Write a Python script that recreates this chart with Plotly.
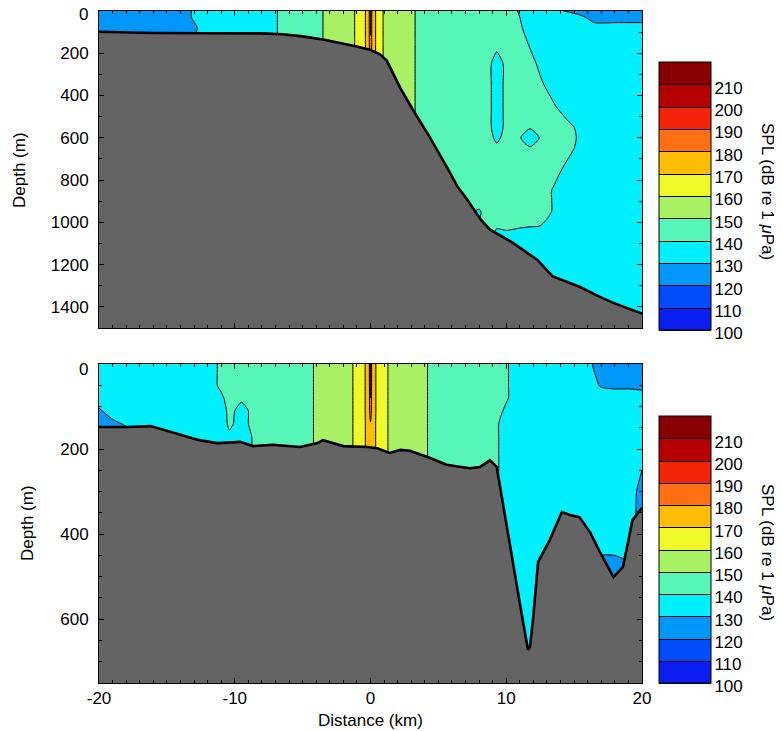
import plotly.graph_objects as go

# --- escala SPL (dB re 1 uPa) ---
SPL_LEVELS = [100, 110, 120, 130, 140, 150, 160, 170, 180, 190, 200, 210]
# fondo (<100) y bandas 100-110 ... 210-220
BAND_COLORS = ["#0a1ef0", "#0a1ef0", "#0064ff", "#00acf5", "#00ffff", "#5ef5b0",
               "#a8f064", "#ecff2c", "#ffc800", "#ff8414", "#ff3a12", "#dc0000", "#880000"]

X_RANGE = [-20, 20]
X_TICKS = [-20, -10, 0, 10, 20]
X_TICKTEXT = ["-20", "-10", "0", "10", "20"]

# --- panel superior: talud ---
TOP_DEPTH_MAX = 1500
TOP_TICKS = [0, 200, 400, 600, 800, 1000, 1200, 1400]
X_TOP = [-20, -16, -14, -12, -10, -8, -6, -4, -3, -2, -1, -0.5, -0.1, 0, 0.1, 0.5, 1, 2, 3,
         4, 5, 6, 7, 8, 8.7, 9.3, 10, 11, 11.75, 12.5, 13.5, 14.5, 15.5, 16.5, 18, 20]
Z_TOP = [0, 30, 80, 150, 250, 350, 450, 550, 600, 650, 750, 850, 950, 1050, 1150, 1300, 1500]
SPL_TOP = [
    [124, 126, 129, 131.5, 134, 138, 141.5, 148.5, 151.5, 155, 161, 166, 179, 197, 179, 166, 159, 154, 151,
     147.5, 146, 145, 144, 143, 142, 141.5, 141, 139.8, 134, 131.5, 130.5, 129.8, 129, 128.8, 128.5, 128],
    [124, 126, 129, 131.5, 134, 138, 141.5, 148.5, 151.5, 155, 161, 166, 179, 195, 179, 166, 159, 154, 151,
     147.5, 146, 145, 144, 143, 142.5, 142, 141.5, 140, 137, 135, 132.5, 131.5, 130.5, 129, 129, 129],
    [124, 126, 129, 130.6, 134, 138, 141.5, 148.5, 151.5, 155, 161, 166, 179, 192, 179, 166, 159, 154, 151,
     147.5, 146, 145, 144, 143, 142.5, 142, 142, 140.5, 138.5, 137, 135, 134, 132.5, 131, 131, 131],
    [124, 126, 129, 131.5, 134, 138, 141.5, 148.5, 151.5, 155, 161, 166, 179, 188, 179, 166, 159, 154, 151,
     147.5, 146, 145, 144, 143.5, 142.5, 141.5, 142, 141, 139.7, 138.5, 137, 136.5, 136, 135.5, 135.5, 135.5],
    [124, 126, 129, 131.5, 134, 138, 141.5, 148.5, 151.5, 155, 161, 166, 178, 183, 178, 166, 159, 154, 151,
     147.5, 146, 145, 144, 143.5, 141, 138, 141, 141.5, 140.8, 139.5, 138, 137.5, 137, 137, 137, 137],
    [124, 126, 129, 131.5, 134, 138, 141.5, 148.5, 151.5, 155, 161, 166, 178, 183, 178, 166, 159, 154, 151,
     147.5, 146, 145, 144, 143.5, 141, 138, 141, 142, 141.5, 140.4, 139, 138, 137.5, 137, 137, 137],
    [124, 126, 129, 131.5, 134, 138, 141.5, 148.5, 151.5, 155, 161, 166, 178, 183, 178, 166, 159, 154, 151,
     147.5, 146, 145, 144, 143.5, 141, 138, 141, 142, 141.5, 141, 140.2, 138.8, 138, 137.5, 137, 137],
    [124, 126, 129, 131.5, 134, 138, 141.5, 148.5, 151.5, 155, 161, 166, 178, 183, 178, 166, 159, 154, 151,
     147.5, 146, 145, 144, 143.5, 141, 138, 141, 141.8, 140.5, 141.5, 141.2, 140.6, 139.4, 138.5, 137.5, 137],
    [124, 126, 129, 131.5, 134, 138, 141.5, 148.5, 151.5, 155, 161, 166, 178, 183, 178, 166, 159, 154, 151,
     147.5, 146, 145, 144, 143.5, 141.5, 139, 141.5, 140.3, 137, 140.3, 141.2, 140.8, 139.6, 138.5, 137.5, 137],
    [124, 126, 129, 131.5, 134, 138, 141.5, 148.5, 151.5, 155, 161, 166, 178, 183, 178, 166, 159, 154, 151,
     147.5, 146, 145, 144, 143.5, 142, 141, 142, 141.5, 140.5, 141.5, 141.3, 140.6, 139.4, 138.5, 137.5, 137],
    [124, 126, 129, 131.5, 134, 138, 141.5, 148.5, 151.5, 155, 161, 166, 178, 183, 178, 166, 159, 154, 151,
     147.5, 146, 145, 144, 143.5, 143, 142.5, 142, 142, 141.8, 141.5, 140.7, 139.5, 138.5, 138, 137.5, 137],
    [124, 126, 129, 131.5, 134, 138, 141.5, 148.5, 151.5, 155, 161, 166, 178, 183, 178, 166, 159, 154, 151,
     147.5, 146, 145, 144, 143.5, 143, 142.5, 142, 141.5, 141.2, 141, 139.8, 138.8, 138, 137.5, 137, 137],
    [124, 126, 129, 131.5, 134, 138, 141.5, 148.5, 151.5, 155, 161, 166, 178, 183, 178, 166, 159, 154, 151,
     147.5, 146, 145, 141, 139.5, 142, 142, 141.5, 141, 141, 141, 139.8, 138.8, 138, 137.5, 137, 137],
    [124, 126, 129, 131.5, 134, 138, 141.5, 148.5, 151.5, 155, 161, 166, 178, 183, 178, 166, 159, 154, 151,
     147.5, 146, 145, 141, 140.5, 141, 139.5, 139.8, 139.7, 139.6, 139.5, 139, 138.5, 138, 137.5, 137, 137],
    [124, 126, 129, 131.5, 134, 138, 141.5, 148.5, 151.5, 155, 161, 166, 178, 183, 178, 166, 159, 154, 151,
     147.5, 146, 145, 141, 140, 139.5, 139, 139, 139, 138.5, 138.5, 138, 138, 137.5, 137.5, 137, 137],
    [124, 126, 129, 131.5, 134, 138, 141.5, 148.5, 151.5, 155, 161, 166, 178, 183, 178, 166, 159, 154, 151,
     147.5, 146, 145, 141, 140, 139, 138.5, 138.5, 138.5, 138.5, 138, 138, 138, 137.5, 137.5, 137, 137],
    [124, 126, 129, 131.5, 134, 138, 141.5, 148.5, 151.5, 155, 161, 166, 178, 183, 178, 166, 159, 154, 151,
     147.5, 146, 145, 141, 140, 139, 138.5, 138.5, 138.5, 138.5, 138, 138, 138, 137.5, 137.5, 137, 137],
]
BATHY_TOP_X = [-20, -16, -12, -8, -6.5, -5, -3.5, -2, -1, 0, 0.7, 1.2, 1.7, 2.2, 3.1, 4.3, 5.6, 6.4,
               7.1, 8.1, 8.8, 10.5, 12.3, 13.4, 15.4, 16.9, 17.9, 20]
BATHY_TOP_Z = [98, 104, 105, 106, 110, 120, 135, 155, 168, 185, 205, 235, 300, 365, 465, 590, 735, 830,
               890, 985, 1035, 1097, 1178, 1255, 1305, 1353, 1381, 1432]

# --- panel inferior: plataforma y canon ---
BOT_DEPTH_MAX = 750
BOT_TICKS = [0, 200, 400, 600]
X_BOT = [-20, -19, -18, -16, -14, -12, -11, -10.4, -9.5, -8.5, -7, -5, -4, -3, -2, -1, -0.5, -0.1, 0, 0.1,
         0.5, 1, 1.5, 2, 3, 4, 5, 6, 7, 8, 9, 10, 11, 12, 13, 14, 15, 16, 17, 18, 19, 20]
Z_BOT = [0, 20, 50, 80, 110, 140, 170, 200, 250, 300, 400, 500, 600, 750]
SPL_BOT = [
    [131.5, 132, 132.5, 134, 136, 138.5, 140.6, 141.5, 142, 142.5,
     144, 148, 150.5, 153, 156, 161.7, 167.5, 177, 196, 177, 167.5, 162, 158.5, 157, 154, 150.5, 148, 146, 145, 144,
     142, 140.3, 138.5, 137, 136, 135, 132, 130.5, 129, 128.5, 128.5, 128.5],
    [131.5, 132, 132.5, 134, 136, 138.5, 140.6, 141.5, 142, 142.5,
     144, 148, 150.5, 153, 156, 161.7, 167.5, 177, 195, 177, 167.5, 162, 158.5, 157, 154, 150.5, 148, 146, 145, 144,
     142, 140.3, 138.5, 137.5, 136.5, 135.5, 133, 130.7, 129.3, 129, 129, 129],
    [131.5, 132, 132.5, 134, 136, 138.5, 140.6, 141.5, 142, 142.5,
     144, 148, 150.5, 153, 156, 161.7, 167.5, 177, 193, 177, 167.5, 162, 158.5, 157, 154, 150.5, 148, 146, 145, 144,
     142, 140.3, 138.5, 137.5, 136.5, 135.5, 133.5, 131, 129.8, 129.6, 129.6, 129.5],
    [131, 132, 132.5, 134, 136, 138.5, 139.5, 141, 140.5, 142,
     144, 148, 150.5, 153, 156, 161.7, 167.5, 177, 190, 177, 167.5, 162, 158.5, 157, 154, 150.5, 148, 146, 145, 144,
     142, 140.3, 138.5, 137.5, 136.5, 135.5, 134, 132.5, 131, 131, 131, 130.8],
    [129.7, 131, 132, 134, 136, 138, 138.5, 140.8, 139, 141,
     144, 148, 150.5, 153, 156, 161.7, 167.5, 177, 186, 177, 167.5, 162, 158.5, 157, 154, 150.5, 148, 146, 145, 144,
     141.5, 139.5, 138.5, 137.5, 136.5, 136, 135, 134, 133, 132.5, 132, 131.5],
    [128.5, 129.5, 130.3, 133.5, 135.5, 138, 138.5, 140.5, 139, 141,
     144, 148, 150.5, 153, 156, 161.7, 167.5, 176, 179, 176, 167.5, 162, 158.5, 157, 154, 150.5, 148, 146, 145, 144,
     140.8, 139, 138.5, 137.5, 137, 136.5, 135.5, 134.5, 133.5, 133, 132.5, 131.5],
    [128, 128.5, 129, 133, 135, 137.5, 138, 139.5, 138.5, 140.5,
     144, 148, 150.5, 153, 156, 161.7, 167.5, 176, 178, 176, 167.5, 162, 158.5, 157, 154, 150.5, 148, 146, 145, 144,
     140.8, 139, 138.5, 137.5, 137, 136.5, 135.5, 134.5, 133.5, 133, 132.5, 131.5],
    [128, 128.5, 129, 133, 135, 137.5, 138, 139, 138.5, 140.5,
     144, 148, 150.5, 153, 156, 161.7, 167.5, 176, 178, 176, 167.5, 162, 158.5, 157, 154, 150.5, 148, 146, 145, 144,
     140.8, 139, 138.5, 137.5, 137, 136.5, 135.5, 134.5, 133.5, 133, 132, 131],
    [128, 128.5, 129, 133, 135, 137.5, 138, 139, 138.5, 140.5,
     144, 148, 150.5, 153, 156, 161.7, 167.5, 176, 178, 176, 167.5, 162, 158.5, 157, 154, 150.5, 148, 146, 145, 144,
     140.8, 139, 138.5, 137.5, 137, 136.5, 135.5, 134.5, 133.5, 133, 131.5, 130],
    [128, 128.5, 129, 133, 135, 137.5, 138, 139, 138.5, 140.5,
     144, 148, 150.5, 153, 156, 161.7, 167.5, 176, 178, 176, 167.5, 162, 158.5, 157, 154, 150.5, 148, 146, 145, 144,
     140.8, 138.5, 138, 137, 136.5, 136, 135, 134, 133, 132.5, 131.5, 129],
    [128, 128.5, 129, 133, 135, 137.5, 138, 139, 138.5, 140.5,
     144, 148, 150.5, 153, 156, 161.7, 167.5, 176, 178, 176, 167.5, 162, 158.5, 157, 154, 150.5, 148, 146, 145, 144,
     140.8, 138, 137.5, 137, 136.5, 135.5, 134, 132.5, 131.5, 131.5, 131.5, 128.5],
    [128, 128.5, 129, 133, 135, 137.5, 138, 139, 138.5, 140.5,
     144, 148, 150.5, 153, 156, 161.7, 167.5, 176, 178, 176, 167.5, 162, 158.5, 157, 154, 150.5, 148, 146, 145, 144,
     140.8, 137.5, 137, 136.5, 136, 135, 133, 129.5, 128.5, 128.5, 129, 128.5],
    [128, 128.5, 129, 133, 135, 137.5, 138, 139, 138.5, 140.5,
     144, 148, 150.5, 153, 156, 161.7, 167.5, 176, 178, 176, 167.5, 162, 158.5, 157, 154, 150.5, 148, 146, 145, 144,
     140.8, 137, 137, 136.5, 136, 135, 132, 129, 128.5, 128.5, 128.5, 128.5],
    [128, 128.5, 129, 133, 135, 137.5, 138, 139, 138.5, 140.5,
     144, 148, 150.5, 153, 156, 161.7, 167.5, 176, 178, 176, 167.5, 162, 158.5, 157, 154, 150.5, 148, 146, 145, 144,
     140.8, 137, 137, 136.5, 136, 135, 132, 129, 128.5, 128.5, 128.5, 128.5],
]
BATHY_BOT_X = [-20, -17.9, -16.2, -14.5, -12.6, -11.3, -9.6, -8.65, -7.2, -5.2, -3.9, -3.5, -2.8, -2.0,
               -0.25, 0.5, 1.4, 2.2, 2.9, 4.4, 5.6, 7.3, 8.07, 8.8, 9.3, 9.55, 10.3, 11.0, 11.6, 11.75,
               12.0, 12.35, 13.2, 14.1, 14.7, 15.4, 16.2, 16.9, 17.9, 18.6, 19.3, 20]
BATHY_BOT_Z = [148, 148, 146, 162, 179, 186, 183, 193, 190, 195, 186, 179, 186, 193,
               195, 198, 209, 202, 204, 221, 237, 245, 242, 226, 242, 290, 430, 562, 672, 665,
               590, 465, 414, 348, 355, 360, 397, 442, 501, 477, 367, 338]

FONT = "Liberation Sans, Arial, sans-serif"
SEABED = "#646464"
CB_TITLE = "SPL (dB re 1 <i>μ</i>Pa)"
CB_LABEL_NUDGE = 4  # las etiquetas de la barra quedan algo por debajo de cada nivel

# la pagina html deja 8 px de margen en el body: se descuentan aqui
PAGE_OFFSET = 8
W, H = 782 - PAGE_OFFSET, 731 - PAGE_OFFSET
H_PLOT = 672  # alto del area de graficas en px
W_PLOT = 543


def px_x(p):
    return (p - 99) / W_PLOT


def px_y(p):
    return (683 - p) / H_PLOT


colorscale = [[k / (len(BAND_COLORS) - 1), c] for k, c in enumerate(BAND_COLORS)]

fig = go.Figure()


def add_panel(x, z, spl, bx, bz, zmax, xa, ya, cb_y, cb_len):
    fig.add_trace(go.Contour(
        x=x, y=z, z=spl, xaxis=xa, yaxis=ya,
        colorscale=colorscale, zauto=False, zmin=100, zmax=220,
        autocontour=False,
        contours=dict(start=SPL_LEVELS[0], end=SPL_LEVELS[-1], size=10,
                      coloring="fill", showlines=True),
        line=dict(color="#000000", width=1, smoothing=0.6),
        colorbar=dict(
            x=px_x(659), xanchor="left", xpad=0, ypad=0,
            y=cb_y, yanchor="middle", len=cb_len, lenmode="pixels",
            thickness=52, outlinecolor="black", outlinewidth=1,
            tickvals=[v + CB_LABEL_NUDGE for v in SPL_LEVELS], ticktext=[str(v) for v in SPL_LEVELS],
            ticks="outside", ticklen=13, tickcolor="rgba(0,0,0,0)",
            ticklabelposition="outside bottom",
            tickfont=dict(family=FONT, size=17, color="black"),
        ),
        hoverinfo="skip",
    ))
    fig.add_trace(go.Scatter(
        x=bx + [X_RANGE[1], X_RANGE[0]], y=bz + [zmax, zmax],
        xaxis=xa, yaxis=ya, mode="none", fill="toself", fillcolor=SEABED,
        hoverinfo="skip", showlegend=False,
    ))
    fig.add_trace(go.Scatter(
        x=bx, y=bz, xaxis=xa, yaxis=ya, mode="lines",
        line=dict(color="black", width=2.6), hoverinfo="skip", showlegend=False,
    ))


add_panel(X_TOP, Z_TOP, SPL_TOP, BATHY_TOP_X, BATHY_TOP_Z, TOP_DEPTH_MAX, "x", "y", px_y(196), 268)
add_panel(X_BOT, Z_BOT, SPL_BOT, BATHY_BOT_X, BATHY_BOT_Z, BOT_DEPTH_MAX, "x2", "y2", px_y(549.5), 267)

axis_common = dict(
    showline=True, linecolor="black", linewidth=1, mirror="allticks",
    ticks="inside", ticklen=5, tickcolor="black", showgrid=False, zeroline=False,
    ticklabeloverflow="allow",
    tickfont=dict(family=FONT, size=17, color="black"),
)

# el "0" de profundidad va un poco por debajo del borde: se pone aparte
top_ticktext = [""] + [str(v) for v in TOP_TICKS[1:]]
bot_ticktext = [""] + [str(v) for v in BOT_TICKS[1:]]

fig.update_layout(
    width=W, height=H,
    margin=dict(l=99 - PAGE_OFFSET, r=140, t=11 - PAGE_OFFSET, b=48, autoexpand=False),
    plot_bgcolor="white", paper_bgcolor="white",
    showlegend=False,
    font=dict(family=FONT, size=17, color="black"),
    xaxis=dict(domain=[0, 1], anchor="y", range=X_RANGE, tickvals=X_TICKS, showticklabels=False,
               minor=dict(dtick=1, ticks="inside", ticklen=3, tickcolor="black"), **axis_common),
    yaxis=dict(domain=[px_y(328), 1], anchor="x", range=[TOP_DEPTH_MAX, 0],
               tickvals=TOP_TICKS, ticktext=top_ticktext,
               minor=dict(dtick=100, ticks="inside", ticklen=3, tickcolor="black"),
               ticklabelstandoff=6, **axis_common),
    xaxis2=dict(domain=[0, 1], anchor="y2", range=X_RANGE, tickvals=X_TICKS, ticktext=X_TICKTEXT,
                minor=dict(dtick=1, ticks="inside", ticklen=3, tickcolor="black"),
                ticklabelstandoff=0, **axis_common),
    yaxis2=dict(domain=[0, px_y(364)], anchor="x2", range=[BOT_DEPTH_MAX, 0],
                tickvals=BOT_TICKS, ticktext=bot_ticktext,
                minor=dict(dtick=50, ticks="inside", ticklen=3, tickcolor="black"),
                ticklabelstandoff=6, **axis_common),
    annotations=[
        dict(text="0", xref="paper", yref="paper", x=px_x(90), y=px_y(15),
             showarrow=False, xanchor="right", yanchor="middle", font=dict(size=17)),
        dict(text="0", xref="paper", yref="paper", x=px_x(90), y=px_y(369),
             showarrow=False, xanchor="right", yanchor="middle", font=dict(size=17)),
        dict(text="Depth (m)", xref="paper", yref="paper", x=px_x(19), y=px_y(170),
             textangle=-90, showarrow=False, xanchor="center", yanchor="middle"),
        dict(text="Depth (m)", xref="paper", yref="paper", x=px_x(27), y=px_y(523),
             textangle=-90, showarrow=False, xanchor="center", yanchor="middle"),
        dict(text="Distance (km)", xref="paper", yref="paper", x=px_x(370), y=px_y(720),
             showarrow=False, xanchor="center", yanchor="middle"),
        dict(text=CB_TITLE, xref="paper", yref="paper", x=px_x(768), y=px_y(191),
             textangle=90, showarrow=False, xanchor="center", yanchor="middle"),
        dict(text=CB_TITLE, xref="paper", yref="paper", x=px_x(768), y=px_y(552),
             textangle=90, showarrow=False, xanchor="center", yanchor="middle"),
    ],
)

fig.write_html("out.html")
